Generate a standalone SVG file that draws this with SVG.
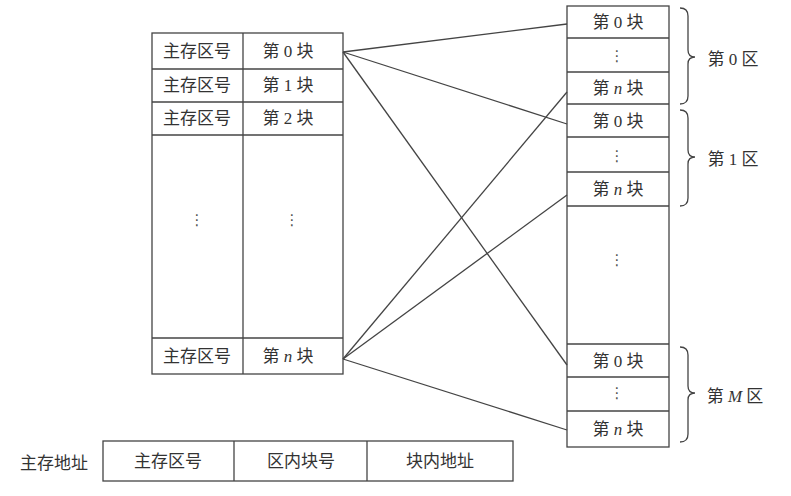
<svg xmlns="http://www.w3.org/2000/svg" width="791" height="496" viewBox="0 0 791 496">
<style>
.box{fill:#fff;stroke:#444;stroke-width:1.3}
.ln{stroke:#444;stroke-width:1.3;fill:none}
.t{font-family:"Liberation Serif","Noto Sans CJK SC",serif;font-size:17px;fill:#333;text-anchor:middle;dominant-baseline:central}
.d{font-family:"DejaVu Sans",sans-serif;font-size:15px;fill:#555;text-anchor:middle;dominant-baseline:central}
.i{font-style:italic}
</style>
<rect width="791" height="496" fill="#fff"/>
<g id="main-memory">
<rect class="box" x="152" y="33" width="191" height="341"/>
<line class="ln" x1="243" y1="33" x2="243" y2="374"/>
<line class="ln" x1="152" y1="69" x2="343" y2="69"/>
<line class="ln" x1="152" y1="102" x2="343" y2="102"/>
<line class="ln" x1="152" y1="135" x2="343" y2="135"/>
<line class="ln" x1="152" y1="338" x2="343" y2="338"/>
<text class="t" x="197" y="51">主存区号</text>
<text class="t" x="288" y="51">第 0 块</text>
<text class="t" x="197" y="85">主存区号</text>
<text class="t" x="288" y="85">第 1 块</text>
<text class="t" x="197" y="118">主存区号</text>
<text class="t" x="288" y="118">第 2 块</text>
<text class="d" x="197" y="220">⋮</text>
<text class="d" x="292" y="220">⋮</text>
<text class="t" x="197" y="356">主存区号</text>
<text class="t" x="288" y="356">第 <tspan class="i">n</tspan> 块</text>
</g>
<g id="cache">
<rect class="box" x="567" y="6" width="102" height="441"/>
<line class="ln" x1="567" y1="38" x2="669" y2="38"/>
<line class="ln" x1="567" y1="72" x2="669" y2="72"/>
<line class="ln" x1="567" y1="104" x2="669" y2="104"/>
<line class="ln" x1="567" y1="137" x2="669" y2="137"/>
<line class="ln" x1="567" y1="172" x2="669" y2="172"/>
<line class="ln" x1="567" y1="206" x2="669" y2="206"/>
<line class="ln" x1="567" y1="344" x2="669" y2="344"/>
<line class="ln" x1="567" y1="377" x2="669" y2="377"/>
<line class="ln" x1="567" y1="411" x2="669" y2="411"/>
<text class="t" x="618" y="22">第 0 块</text>
<text class="d" x="617" y="56">⋮</text>
<text class="t" x="618" y="88">第 <tspan class="i">n</tspan> 块</text>
<text class="t" x="618" y="121">第 0 块</text>
<text class="d" x="617" y="156">⋮</text>
<text class="t" x="618" y="189">第 <tspan class="i">n</tspan> 块</text>
<text class="d" x="617" y="260">⋮</text>
<text class="t" x="618" y="361">第 0 块</text>
<text class="d" x="617" y="393">⋮</text>
<text class="t" x="618" y="429">第 <tspan class="i">n</tspan> 块</text>
</g>
<g id="zone0">
<path class="ln" d="M680,8 Q688,8 688,16 L688,50 Q688,57 695,57 Q688,57 688,64 L688,96 Q688,104 680,104"/>
<text class="t" x="733" y="59">第 0 区</text>
</g>
<g id="zone1">
<path class="ln" d="M680,110 Q688,110 688,118 L688,150 Q688,157 695,157 Q688,157 688,164 L688,198 Q688,206 680,206"/>
<text class="t" x="733" y="159">第 1 区</text>
</g>
<g id="zoneM">
<path class="ln" d="M680,347 Q688,347 688,355 L688,386 Q688,393 695,393 Q688,393 688,400 L688,434 Q688,442 680,442"/>
<text class="t" x="735" y="396">第 <tspan class="i">M</tspan> 区</text>
</g>
<g id="connectors">
<line class="ln" x1="343" y1="52" x2="567" y2="24"/>
<line class="ln" x1="343" y1="52" x2="567" y2="124"/>
<line class="ln" x1="343" y1="52" x2="567" y2="365"/>
<line class="ln" x1="343" y1="359" x2="567" y2="92"/>
<line class="ln" x1="343" y1="359" x2="567" y2="195"/>
<line class="ln" x1="343" y1="359" x2="567" y2="430"/>
</g>
<g id="address">
<text class="t" x="54" y="463">主存地址</text>
<rect class="box" x="103" y="441" width="410" height="40"/>
<line class="ln" x1="234" y1="441" x2="234" y2="481"/>
<line class="ln" x1="367" y1="441" x2="367" y2="481"/>
<text class="t" x="168" y="461">主存区号</text>
<text class="t" x="301" y="461">区内块号</text>
<text class="t" x="440" y="461">块内地址</text>
</g>
</svg>
